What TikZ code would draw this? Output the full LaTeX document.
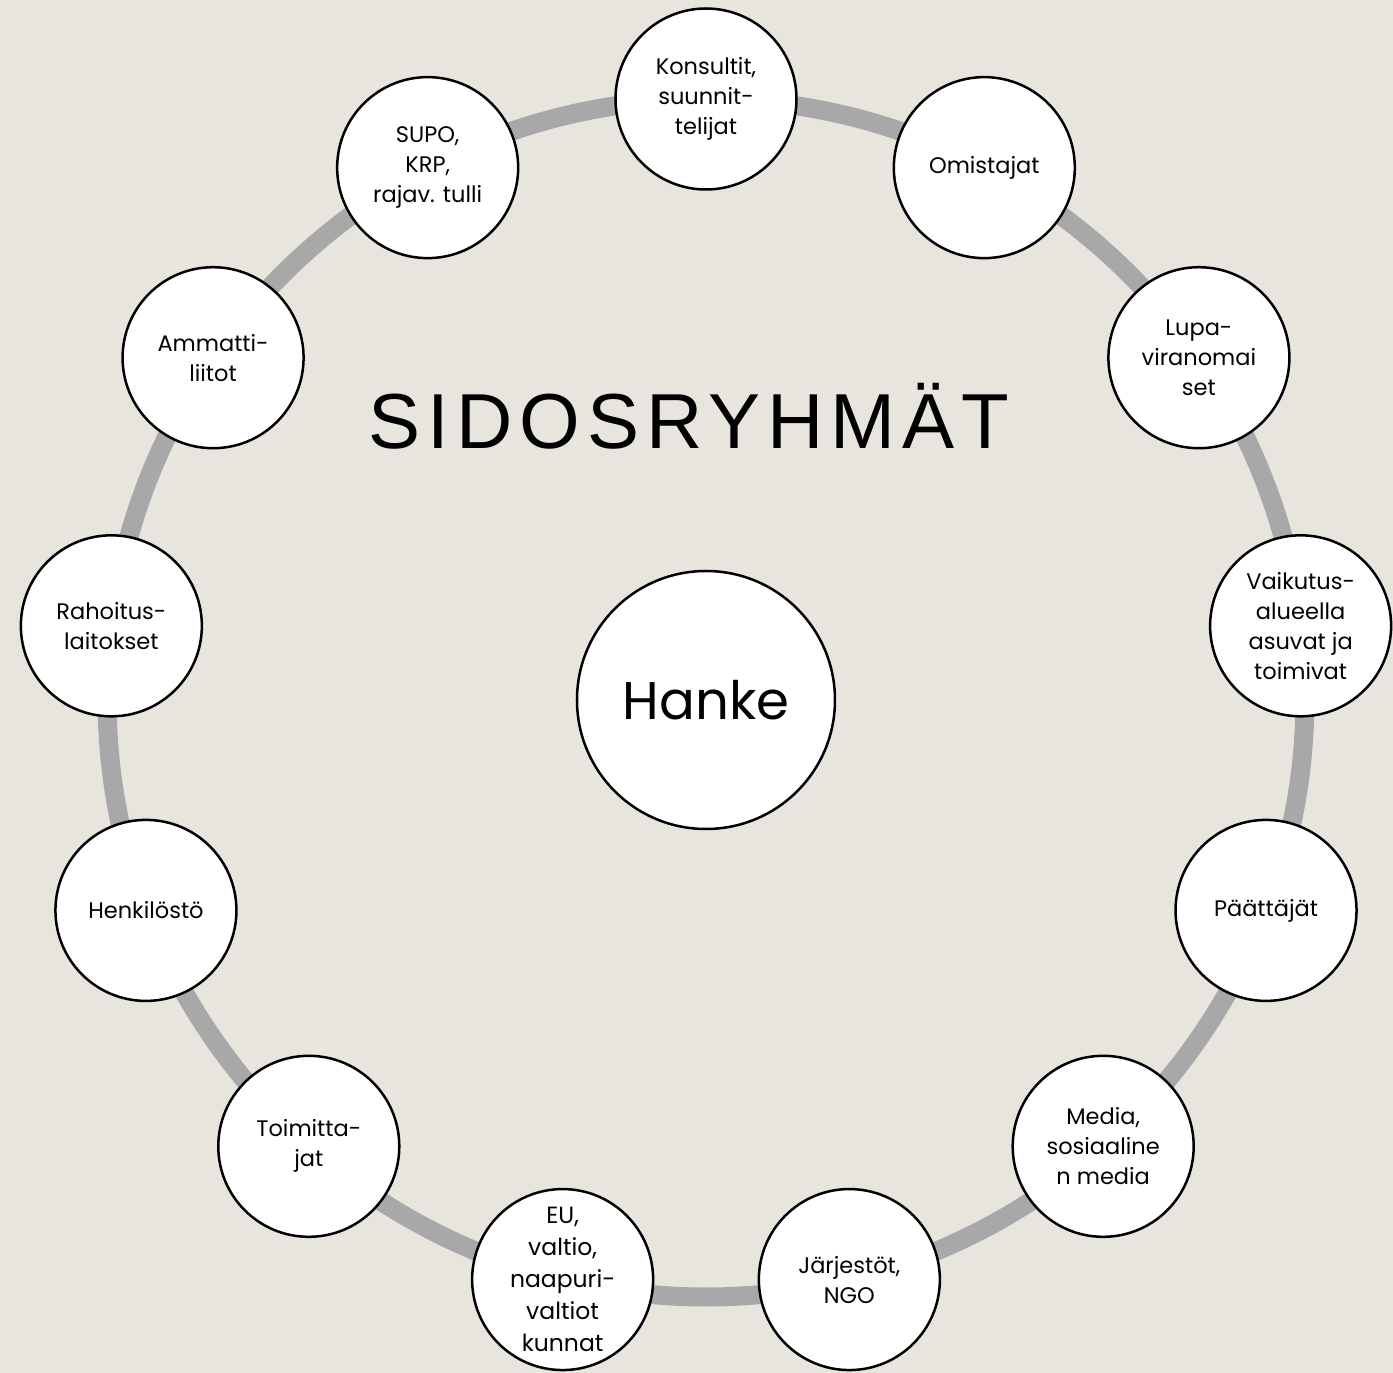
\documentclass[tikz,border=0pt]{standalone}
\usepackage{fontspec}
\setmainfont{Poppins}
\newfontfamily\titlefont[LetterSpace=9]{Liberation Sans}
\usetikzlibrary{positioning}
\definecolor{paper}{HTML}{E8E5DF}
\definecolor{ringgray}{HTML}{A8A8A8}

\tikzset{
  group/.style={circle, draw=black, line width=2.5pt, fill=white,
    minimum size=181pt, inner sep=0pt, align=center,
    font=\fontsize{22.5pt}{30pt}\selectfont},
  core/.style={circle, draw=black, line width=2.5pt, fill=white,
    minimum size=258pt, inner sep=0pt, font=\fontsize{53pt}{60pt}\selectfont}
}

\begin{document}
\begin{tikzpicture}[x=1pt,y=1pt]
  \fill[paper] (-706,-675) rectangle (687,698);
  \useasboundingbox (-706,-675) rectangle (687,698);

  \draw[ringgray, line width=19pt] (0,0) circle (599);

  \node[core] (hanke) at (0,-2) {Hanke};
  \node (title) at (-17,282) {\titlefont\fontsize{78pt}{80pt}\selectfont SIDOSRYHMÄT};

  % sidosryhmät kehällä, 360/13 astetta välein
  \node[group] (konsultit) at (90:599) {Konsultit,\\suunnit-\\telijat};
  \node[group] (omistajat) at (62.31:599) {Omistajat};
  \node[group] (lupa) at (34.62:599) {Lupa-\\viranomai\\set};
  \node[group] (vaikutus) at (6.92:599) {Vaikutus-\\alueella\\asuvat ja\\toimivat};
  \node[group] (paattajat) at (-20.77:599) {Päättäjät};
  \node[group] (media) at (-48.46:599) {Media,\\sosiaaline\\n media};
  \node[group] (jarjestot) at (-76.15:599) {Järjestöt,\\NGO};
  \node[group, font=\fontsize{23.5pt}{32pt}\selectfont] (eu) at (-103.85:599)
    {EU,\\valtio,\\naapuri-\\valtiot\\kunnat};
  \node[group] (toimittajat) at (-131.54:599) {Toimitta-\\jat};
  \node[group] (henkilosto) at (-159.23:599) {Henkilöstö};
  \node[group] (rahoitus) at (173.08:599) {Rahoitus-\\laitokset};
  \node[group] (ammatti) at (145.38:599) {Ammatti-\\liitot};
  \node[group] (supo) at (117.69:599) {SUPO,\\KRP,\\rajav. tulli};
\end{tikzpicture}
\end{document}
